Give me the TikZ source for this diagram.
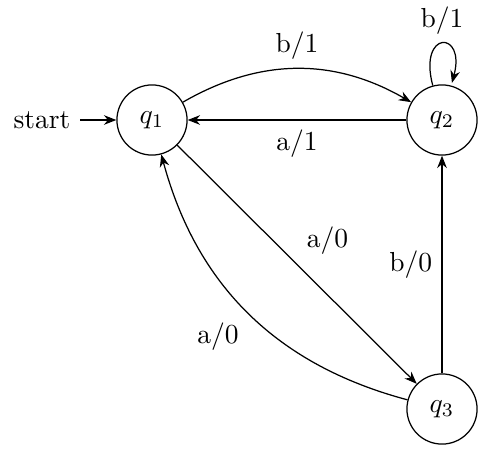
\documentclass[tikz,border=0pt]{standalone}
\usetikzlibrary{automata,arrows.meta}
\begin{document}
\begin{tikzpicture}[x=0.3636pt,y=-0.3636pt,
  >={Stealth[length=4.5pt,width=3.5pt]},
  st/.style={draw,circle,minimum size=25.5pt,inner sep=0pt,line width=0.45pt},
  every edge/.style={draw,->,line width=0.45pt},
  lbl/.style={auto}]
\useasboundingbox (0,0) rectangle (500,454);
\node[st] (q1) at (152,120) {$q_1$};
\node[st] (q2) at (442,120) {$q_2$};
\node[st] (q3) at (442,409) {$q_3$};
\node (start) at (42,120) {start};
\draw[->,line width=0.45pt] (start) -- (q1);
\path (q1) edge[bend left=30] node[lbl] {b/1} (q2)
      (q2) edge node[lbl] {a/1} (q1)
      (q2) edge[loop above] node[lbl] {b/1} (q2)
      (q1) edge node[lbl] {a/0} (q3)
      (q3) edge node[lbl] {b/0} (q2)
      (q3) edge[bend left=30] node[lbl] {a/0} (q1);
\end{tikzpicture}
\end{document}
